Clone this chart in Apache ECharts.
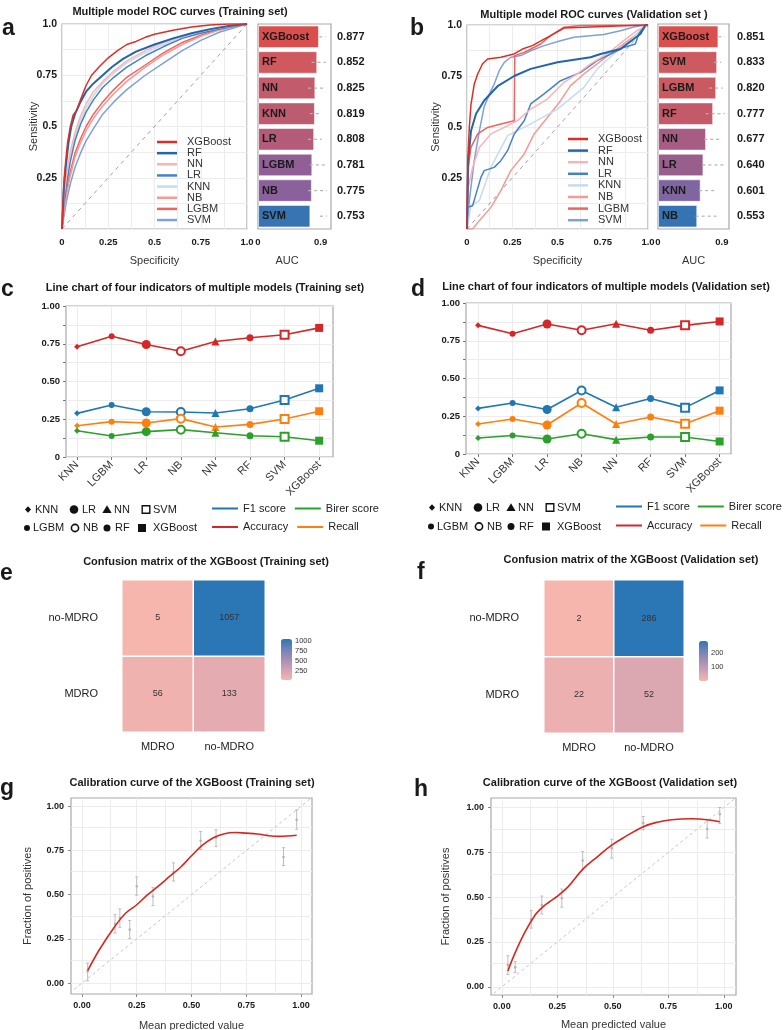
<!DOCTYPE html>
<html>
<head>
<meta charset="utf-8">
<title>Model comparison</title>
<script src="https://cdn.jsdelivr.net/npm/echarts@6.0.0/dist/echarts.min.js"></script>
<style>
  html, body { margin: 0; padding: 0; background: #fff; }
  #main { width: 784px; height: 1030px; }
</style>
</head>
<body>
<div id="main"></div>
<script>
// ---------------- data ----------------
// ROC curves, training set  [x, sensitivity]
var trainXGBoost = [[0,0],[0.005,0.12],[0.012,0.25],[0.02,0.33],[0.03,0.42],[0.045,0.5],[0.06,0.555],[0.08,0.58],[0.1,0.63],[0.13,0.7],[0.16,0.75],[0.2,0.79],[0.25,0.835],[0.3,0.87],[0.35,0.9],[0.4,0.915],[0.45,0.935],[0.5,0.95],[0.6,0.97],[0.7,0.985],[0.8,0.995],[0.9,1],[1,1]];
var trainRF = [[0,0],[0.01,0.2],[0.02,0.3],[0.035,0.42],[0.05,0.5],[0.07,0.56],[0.1,0.62],[0.13,0.67],[0.17,0.71],[0.22,0.75],[0.27,0.79],[0.33,0.83],[0.4,0.865],[0.5,0.9],[0.6,0.93],[0.7,0.955],[0.8,0.975],[0.9,0.99],[1,1]];
var trainNN = [[0,0],[0.01,0.15],[0.025,0.27],[0.045,0.38],[0.07,0.47],[0.1,0.55],[0.13,0.61],[0.17,0.67],[0.22,0.72],[0.28,0.77],[0.35,0.82],[0.45,0.87],[0.55,0.91],[0.65,0.94],[0.75,0.965],[0.85,0.98],[1,1]];
var trainLR = [[0,0],[0.01,0.12],[0.025,0.22],[0.045,0.33],[0.07,0.43],[0.1,0.51],[0.13,0.57],[0.17,0.63],[0.22,0.69],[0.28,0.74],[0.35,0.79],[0.45,0.845],[0.55,0.89],[0.65,0.93],[0.75,0.955],[0.85,0.975],[1,1]];
var trainKNN = [[0,0],[0.01,0.13],[0.025,0.25],[0.045,0.36],[0.07,0.45],[0.1,0.53],[0.13,0.59],[0.17,0.65],[0.22,0.71],[0.28,0.76],[0.35,0.81],[0.45,0.86],[0.55,0.9],[0.65,0.935],[0.75,0.96],[0.85,0.98],[1,1]];
var trainNB = [[0,0],[0.01,0.08],[0.025,0.17],[0.045,0.26],[0.07,0.35],[0.1,0.42],[0.13,0.48],[0.17,0.54],[0.22,0.6],[0.28,0.66],[0.35,0.72],[0.45,0.79],[0.55,0.85],[0.65,0.9],[0.75,0.94],[0.85,0.97],[1,1]];
var trainLGBM = [[0,0],[0.01,0.09],[0.025,0.19],[0.045,0.28],[0.07,0.37],[0.1,0.44],[0.13,0.5],[0.17,0.56],[0.22,0.62],[0.28,0.68],[0.35,0.74],[0.45,0.8],[0.55,0.86],[0.65,0.91],[0.75,0.945],[0.85,0.975],[1,1]];
var trainSVM = [[0,0],[0.01,0.06],[0.025,0.14],[0.045,0.22],[0.07,0.3],[0.1,0.37],[0.13,0.43],[0.17,0.49],[0.22,0.56],[0.28,0.62],[0.35,0.68],[0.45,0.75],[0.55,0.81],[0.65,0.87],[0.75,0.92],[0.85,0.96],[1,1]];

// ROC curves, validation set
var validXGBoost = [[0,0],[0.004,0.335],[0.013,0.5],[0.022,0.61],[0.04,0.71],[0.059,0.76],[0.086,0.81],[0.114,0.833],[0.187,0.842],[0.26,0.858],[0.306,0.882],[0.361,0.899],[0.426,0.931],[0.462,0.948],[0.536,0.985],[0.72,0.992],[0.985,1],[1,1]];
var validRF = [[0,0],[0.007,0.335],[0.022,0.48],[0.05,0.565],[0.095,0.63],[0.169,0.7],[0.261,0.75],[0.352,0.785],[0.5,0.817],[0.683,0.842],[0.738,0.858],[0.848,0.882],[0.921,0.931],[0.958,0.956],[0.985,1],[1,1]];
var validNN = [[0,0],[0.007,0.204],[0.031,0.302],[0.068,0.4],[0.132,0.466],[0.206,0.498],[0.279,0.531],[0.352,0.588],[0.444,0.637],[0.536,0.719],[0.609,0.76],[0.683,0.809],[0.774,0.858],[0.866,0.923],[0.939,0.972],[1,1]];
var validLR = [[0,0],[0,0.106],[0.031,0.114],[0.05,0.172],[0.077,0.253],[0.095,0.286],[0.15,0.302],[0.187,0.335],[0.224,0.384],[0.261,0.466],[0.316,0.531],[0.352,0.613],[0.426,0.662],[0.517,0.727],[0.628,0.768],[0.719,0.825],[0.793,0.858],[0.866,0.89],[0.93,0.907],[0.949,0.956],[0.976,0.989],[1,1]];
var validKNN = [[0,0],[0.022,0.114],[0.068,0.139],[0.132,0.302],[0.224,0.458],[0.352,0.515],[0.5,0.588],[0.646,0.694],[0.719,0.784],[0.811,0.858],[0.903,0.923],[0.985,1],[1,1]];
var validNB = [[0,0],[0.031,0],[0.068,0.041],[0.132,0.106],[0.187,0.188],[0.242,0.286],[0.316,0.368],[0.371,0.466],[0.444,0.547],[0.517,0.629],[0.572,0.703],[0.646,0.76],[0.719,0.809],[0.793,0.858],[0.866,0.907],[0.939,0.956],[1,1]];
var validLGBM = [[0,0],[0.004,0.286],[0.022,0.4],[0.059,0.466],[0.114,0.498],[0.187,0.515],[0.261,0.531],[0.264,0.85],[0.316,0.866],[0.407,0.907],[0.462,0.948],[0.536,0.989],[0.628,0.997],[1,1]];
var validSVM = [[0,0],[0.013,0.14],[0.04,0.335],[0.068,0.48],[0.095,0.6],[0.123,0.66],[0.15,0.71],[0.178,0.776],[0.206,0.817],[0.242,0.842],[0.297,0.85],[0.352,0.874],[0.426,0.899],[0.517,0.923],[0.591,0.94],[0.756,0.953],[0.848,0.972],[0.921,0.99],[0.985,1],[1,1]];

var rocModels = ['XGBoost', 'RF', 'NN', 'LR', 'KNN', 'NB', 'LGBM', 'SVM'];
var rocTrainCurves = [trainXGBoost, trainRF, trainNN, trainLR, trainKNN, trainNB, trainLGBM, trainSVM];
var rocValidCurves = [validXGBoost, validRF, validNN, validLR, validKNN, validNB, validLGBM, validSVM];

// AUC bars
var aucTrainModels = ['XGBoost', 'RF', 'NN', 'KNN', 'LR', 'LGBM', 'NB', 'SVM'];
var aucTrainValues = [0.877, 0.852, 0.825, 0.819, 0.808, 0.781, 0.775, 0.753];
var aucTrainRange = [[0.88,0.975],[0.77,0.975],[0.72,0.94],[0.745,0.915],[0.72,0.915],[0.745,0.99],[0.72,0.99],[0.89,0.99]];
var aucValidModels = ['XGBoost', 'SVM', 'LGBM', 'RF', 'NN', 'LR', 'KNN', 'NB'];
var aucValidValues = [0.851, 0.833, 0.820, 0.777, 0.677, 0.640, 0.601, 0.553];
var aucValidRange = [[0.85,0.94],[0.79,0.89],[0.72,0.91],[0.67,0.94],[0.65,0.87],[0.625,0.94],[0.58,0.82],[0.53,0.87]];

// four indicators
var lineModels = ['KNN', 'LGBM', 'LR', 'NB', 'NN', 'RF', 'SVM', 'XGBoost'];
var trainF1 = [0.289, 0.344, 0.300, 0.298, 0.291, 0.320, 0.377, 0.455];
var trainBrier = [0.174, 0.139, 0.168, 0.181, 0.161, 0.141, 0.134, 0.108];
var trainAccuracy = [0.730, 0.800, 0.745, 0.700, 0.765, 0.790, 0.810, 0.855];
var trainRecall = [0.207, 0.234, 0.225, 0.254, 0.199, 0.216, 0.252, 0.303];
var validF1 = [0.302, 0.338, 0.295, 0.421, 0.309, 0.368, 0.307, 0.421];
var validBrier = [0.106, 0.123, 0.099, 0.134, 0.095, 0.113, 0.113, 0.083];
var validAccuracy = [0.852, 0.797, 0.861, 0.819, 0.863, 0.819, 0.852, 0.878];
var validRecall = [0.199, 0.232, 0.192, 0.338, 0.199, 0.245, 0.201, 0.287];

// confusion matrices [predicted, actual, count]
var cmClasses = ['MDRO', 'no-MDRO'];
var cmTrain = [[0,0,56],[1,0,133],[0,1,5],[1,1,1057]];
var cmValid = [[0,0,22],[1,0,52],[0,1,2],[1,1,286]];
var cmTrainTicks = [250, 500, 750, 1000];
var cmValidTicks = [100, 200];

// calibration bins [mean predicted, fraction, low, high] and fitted curve
var calTrainBins = [[0.026,0.065,0.012,0.113],[0.151,0.334,0.283,0.387],[0.173,0.368,0.315,0.42],[0.218,0.302,0.252,0.354],[0.25,0.547,0.497,0.6],[0.324,0.49,0.438,0.54],[0.418,0.628,0.577,0.68],[0.542,0.805,0.755,0.857],[0.612,0.824,0.772,0.867],[0.92,0.713,0.665,0.766],[0.98,0.924,0.87,0.98]];
var calTrainCurve = [[0.026,0.07],[0.08,0.19],[0.15,0.32],[0.2,0.396],[0.25,0.443],[0.3,0.5],[0.35,0.55],[0.4,0.603],[0.45,0.655],[0.5,0.72],[0.55,0.78],[0.6,0.822],[0.65,0.845],[0.7,0.852],[0.75,0.848],[0.8,0.843],[0.85,0.834],[0.9,0.83],[0.98,0.836]];
var calValidBins = [[0.027,0.121,0.069,0.173],[0.06,0.108,0.08,0.14],[0.132,0.376,0.327,0.426],[0.18,0.456,0.406,0.506],[0.27,0.494,0.444,0.545],[0.364,0.704,0.652,0.755],[0.495,0.773,0.717,0.823],[0.637,0.913,0.875,0.95],[0.925,0.881,0.829,0.93],[0.982,0.963,0.91,1.0]];
var calValidCurve = [[0.027,0.088],[0.06,0.19],[0.105,0.307],[0.15,0.4],[0.18,0.44],[0.21,0.47],[0.255,0.51],[0.3,0.56],[0.364,0.655],[0.43,0.725],[0.495,0.79],[0.56,0.84],[0.637,0.893],[0.7,0.918],[0.765,0.932],[0.855,0.937],[0.925,0.932],[0.982,0.92]];

// ---------------- styles ----------------
var FONT = '"Liberation Sans", Arial, Helvetica, sans-serif';
var TXT = '#1a1a1a';
var GRIDLINE = '#ececec';
var rocColors = ['#de2d26', '#2166ac', '#f8b4b4', '#4682c3', '#c6dbef', '#f59a94', '#ef6361', '#7fa1d8'];
var aucTrainColors = ['#da4f4d', '#d0595f', '#c25b6c', '#bd5b71', '#b35b79', '#8f5f95', '#8a619a', '#3873b2'];
var aucValidColors = ['#d9504c', '#cd5a5e', '#ca5a61', '#c35a69', '#a65c83', '#985f8c', '#7f66a0', '#3673b3'];
var indicatorColors = {'F1 score': '#1f77b4', 'Birer score': '#2ca02c', 'Accuracy': '#d62728', 'Recall': '#ff7f0e'};
var modelSymbols = ['diamond', 'circle', 'circle', 'emptyCircle', 'triangle', 'circle', 'emptyRect', 'rect'];
var modelSymbolSizes = [6, 6, 9, 8, 8, 7, 8, 8];
var cmScale = ['#f6b6ae', '#d0a2b3', '#a58fb6', '#7283b7', '#2b77b5'];

var chart = echarts.init(document.getElementById('main'), null, {renderer: 'canvas'});

// ---------------- grids ----------------
function frame(l, t, w, h) {
  return {left: l, top: t, width: w, height: h, show: true, borderColor: '#a8a8a8', borderWidth: 1.2,
    backgroundColor: 'rgba(0,0,0,0)', outerBoundsMode: 'none'};
}
function plain(l, t, w, h) {
  return {left: l, top: t, width: w, height: h, show: false, outerBoundsMode: 'none'};
}
var grids = [
  frame(62, 24, 185, 205),   // 0 a ROC
  frame(258, 24, 73, 205),   // 1 a AUC
  frame(467, 25, 181, 204),  // 2 b ROC
  frame(658, 24, 71, 205),   // 3 b AUC
  frame(66, 306, 267, 151),  // 4 c
  frame(466, 303, 265, 151), // 5 d
  plain(122, 580, 143, 152), // 6 e
  plain(544, 580, 140, 153), // 7 f
  frame(71, 798, 241, 196),  // 8 g
  frame(491, 798, 245, 197), // 9 h
  plain(281, 639, 11, 41),   // 10 e colour bar
  plain(699, 641, 9, 40)     // 11 f colour bar
];

// ---------------- axes ----------------
var noLine = {show: false, onZero: false};
function rocX(g) {
  var lab = {0: '0', 0.25: '0.25', 0.5: '0.5', 0.75: '0.75', 1: '1.0'};
  return {type: 'value', gridIndex: g, min: 0, max: 1, interval: 0.125,
    axisLine: noLine, axisTick: {show: false},
    splitLine: {lineStyle: {color: GRIDLINE}},
    axisLabel: {formatter: function (v) { return lab[v] || ''; }, fontSize: 9.5, fontWeight: 'bold', color: TXT, margin: 8},
    name: 'Specificity', nameLocation: 'middle', nameGap: 26, nameMoveOverlap: false, nameTextStyle: {fontSize: 11, color: '#333'}};
}
function rocY(g, gap) {
  var lab = {0.25: '0.25', 0.5: '0.5', 0.75: '0.75', 1: '1.0'};
  return {type: 'value', gridIndex: g, min: 0, max: 1, interval: 0.125,
    axisLine: noLine, axisTick: {show: false},
    splitLine: {lineStyle: {color: GRIDLINE}},
    axisLabel: {formatter: function (v) { return lab[v] || ''; }, fontSize: 10.5, fontWeight: 'bold', color: TXT, margin: 5},
    name: 'Sensitivity', nameLocation: 'middle', nameGap: gap, nameMoveOverlap: false, nameTextStyle: {fontSize: 11, color: '#333'}};
}
function aucX(g, max, pad) {
  return {type: 'value', gridIndex: g, min: 0, max: max,
    axisLine: noLine, axisTick: {show: false, customValues: [0, 0.9]}, splitLine: {show: false},
    axisLabel: {customValues: [0, 0.9], formatter: function (v) { return String(v); }, fontSize: 9.5, fontWeight: 'bold', color: TXT, margin: 8},
    name: 'AUC', nameLocation: 'middle', nameGap: 26, nameMoveOverlap: false, nameTextStyle: {fontSize: 11, color: '#333', padding: [0, pad, 0, 0]}};
}
function aucY(g, models) {
  return {type: 'category', gridIndex: g, data: models, inverse: true,
    axisLine: noLine, axisTick: {show: false}, axisLabel: {show: false}, splitLine: {show: false}};
}
function aucValY(g, values, margin) {
  return {type: 'category', gridIndex: g, position: 'right', inverse: true,
    data: values.map(function (v) { return v.toFixed(3); }),
    axisLine: noLine, axisTick: {show: false}, splitLine: {show: false},
    axisLabel: {fontSize: 11, fontWeight: 'bold', color: TXT, margin: margin}};
}
function indX(g, lo, hi) {
  var idx = lineModels.map(function (m, i) { return i; });
  return {type: 'value', gridIndex: g, min: lo, max: hi,
    axisLine: noLine, splitLine: {show: false},
    axisTick: {show: true, customValues: idx, length: 3, lineStyle: {color: '#777'}},
    axisLabel: {customValues: idx, formatter: function (v) { return lineModels[v]; }, rotate: 45, fontSize: 11, color: '#333', margin: 6}};
}
function indY(g) {
  return {type: 'value', gridIndex: g, min: 0, max: 1, interval: 0.125,
    axisLine: noLine, axisTick: {show: true, length: 3, lineStyle: {color: '#777'}},
    splitLine: {lineStyle: {color: GRIDLINE}},
    axisLabel: {formatter: function (v) { return (v * 4) % 1 === 0 ? (v === 0 ? '0' : v.toFixed(2)) : ''; },
      fontSize: 9.5, fontWeight: 'bold', color: TXT, margin: 6}};
}
function cmX(g) {
  return {type: 'category', gridIndex: g, data: cmClasses, axisLine: noLine, axisTick: {show: false},
    splitLine: {show: false}, axisLabel: {fontSize: 11, color: '#222', margin: 9}};
}
function cmY(g, margin) {
  return {type: 'category', gridIndex: g, data: cmClasses, axisLine: noLine, axisTick: {show: false},
    splitLine: {show: false}, axisLabel: {fontSize: 11, color: '#222', margin: margin}};
}
var calTicks = [0, 0.25, 0.5, 0.75, 1];
function calX(g, lo, hi, gap) {
  return {type: 'value', gridIndex: g, min: lo, max: hi, axisLine: noLine, splitLine: {show: false},
    axisTick: {show: true, customValues: calTicks, length: 3, lineStyle: {color: '#888'}},
    axisLabel: {customValues: calTicks, formatter: function (v) { return v.toFixed(2); }, fontSize: 9, fontWeight: 'bold', color: TXT, margin: 7},
    name: 'Mean predicted value', nameLocation: 'middle', nameGap: gap, nameMoveOverlap: false, nameTextStyle: {fontSize: 11, color: '#333'}};
}
function calY(g, lo, hi, gap) {
  return {type: 'value', gridIndex: g, min: lo, max: hi, axisLine: noLine, splitLine: {show: false},
    axisTick: {show: true, customValues: calTicks, length: 3, lineStyle: {color: '#888'}},
    axisLabel: {customValues: calTicks, formatter: function (v) { return v.toFixed(2); }, fontSize: 9, fontWeight: 'bold', color: TXT, margin: 7},
    name: 'Fraction of positives', nameLocation: 'middle', nameGap: gap, nameMoveOverlap: false, nameTextStyle: {fontSize: 11, color: '#333'}};
}
function cbX(g) {
  return {type: 'value', gridIndex: g, show: false, min: 0, max: 1};
}
function cbY(g, lo, hi, ticks) {
  return {type: 'value', gridIndex: g, position: 'right', min: lo, max: hi,
    axisLine: noLine, axisTick: {show: false, customValues: ticks}, splitLine: {show: false},
    axisLabel: {customValues: ticks, formatter: function (v) { return String(v); }, fontSize: 7.5, color: '#333', margin: 3}};
}

var xAxes = [
  rocX(0), aucX(1, 1.05, 15), rocX(2), aucX(3, 1.0, 0),
  indX(4, -0.32, 7.4), indX(5, -0.35, 7.33),
  cmX(6), cmX(7),
  calX(8, -0.05, 1.05, 26), calX(9, -0.049, 1.055, 24),
  cbX(10), cbX(11)
];
var yAxes = [
  rocY(0, 23), aucY(1, aucTrainModels), aucValY(1, aucTrainValues, 6),
  rocY(2, 26), aucY(3, aucValidModels), aucValY(3, aucValidValues, 8),
  indY(4), indY(5),
  cmY(6, 24), cmY(7, 25),
  calY(8, -0.062, 1.047, 38), calY(9, -0.046, 1.053, 40),
  cbY(10, 5, 1057, cmTrainTicks), cbY(11, 2, 286, cmValidTicks)
];

// ---------------- series ----------------
var series = [];

function rocSeries(curves, xi, yi) {
  series.push({type: 'line', name: 'chance', xAxisIndex: xi, yAxisIndex: yi, silent: true, showSymbol: false,
    data: [[0, 0], [1, 1]], lineStyle: {color: '#a0a0a0', width: 1, type: [4, 4]}, z: 1});
  for (var i = curves.length - 1; i >= 0; i--) {
    series.push({type: 'line', name: rocModels[i], xAxisIndex: xi, yAxisIndex: yi, showSymbol: false, silent: true,
      data: curves[i], itemStyle: {color: rocColors[i]},
      lineStyle: {color: rocColors[i], width: rocModels[i] === 'RF' ? 2 : 1.5}});
  }
}
function aucSeries(values, colors, range, xi, yi) {
  series.push({type: 'bar', xAxisIndex: xi, yAxisIndex: yi, barCategoryGap: '12%', silent: true,
    data: values.map(function (v, i) {
      return {value: v, itemStyle: {color: colors[i], borderColor: 'rgba(255,255,255,0.55)', borderWidth: 1}};
    }),
    label: {show: true, position: 'insideLeft', distance: 4, formatter: '{b}', fontSize: 11, fontWeight: 'bold', color: TXT}});
  series.push({type: 'custom', xAxisIndex: xi, yAxisIndex: yi, z: 5, silent: true,
    data: range.map(function (d, i) { return [d[0], d[1], i]; }),
    encode: {x: [0, 1], y: 2},
    renderItem: function (params, api) {
      var a = api.coord([api.value(0), api.value(2)]);
      var b = api.coord([api.value(1), api.value(2)]);
      return {type: 'line', shape: {x1: a[0], y1: a[1], x2: b[0], y2: b[1]},
        style: {stroke: '#b4b4b4', lineWidth: 1.2, lineDash: [3, 3]}};
    }});
}
function gridLines(xi, yi, xs, ys) {
  var d = [];
  xs.forEach(function (v) { d.push({xAxis: v}); });
  ys.forEach(function (v) { d.push({yAxis: v}); });
  series.push({type: 'line', xAxisIndex: xi, yAxisIndex: yi, data: [], z: 0, silent: true,
    markLine: {silent: true, z: 0, symbol: ['none', 'none'], label: {show: false}, animation: false,
      lineStyle: {color: GRIDLINE, width: 1, type: 'solid'}, data: d}});
}
function indicatorSeries(name, values, xi, yi) {
  var c = indicatorColors[name];
  series.push({type: 'line', name: name, xAxisIndex: xi, yAxisIndex: yi, z: 3, silent: true,
    lineStyle: {color: c, width: 1.6}, itemStyle: {color: c},
    data: values.map(function (v, i) {
      var empty = modelSymbols[i].indexOf('empty') === 0;
      return {value: [i, v], symbol: modelSymbols[i], symbolSize: modelSymbolSizes[i],
        itemStyle: {color: c, borderColor: c, borderWidth: empty ? 1.5 : 0}};
    })});
}
function heatSeries(data, xi, yi) {
  series.push({type: 'heatmap', xAxisIndex: xi, yAxisIndex: yi, data: data, silent: true,
    itemStyle: {borderColor: '#fff', borderWidth: 1.5},
    label: {show: true, formatter: function (p) { return p.value[2]; }, fontSize: 9, color: '#333'}});
  return series.length - 1;
}
function calSeries(bins, curve, xi, yi) {
  series.push({type: 'line', xAxisIndex: xi, yAxisIndex: yi, silent: true, showSymbol: false, z: 1,
    data: [[-0.1, -0.1], [1.1, 1.1]], lineStyle: {color: '#c4c4c4', width: 1, type: [3, 3]}});
  series.push({type: 'custom', xAxisIndex: xi, yAxisIndex: yi, silent: true, z: 2,
    data: bins, encode: {x: 0, y: [1, 2, 3]},
    renderItem: function (params, api) {
      var x = api.value(0);
      var lo = api.coord([x, api.value(2)]), hi = api.coord([x, api.value(3)]), c = api.coord([x, api.value(1)]);
      var st = {stroke: '#bdbdbd', lineWidth: 1};
      return {type: 'group', children: [
        {type: 'line', shape: {x1: lo[0], y1: lo[1], x2: hi[0], y2: hi[1]}, style: st},
        {type: 'line', shape: {x1: lo[0] - 1.5, y1: lo[1], x2: lo[0] + 1.5, y2: lo[1]}, style: st},
        {type: 'line', shape: {x1: hi[0] - 1.5, y1: hi[1], x2: hi[0] + 1.5, y2: hi[1]}, style: st},
        {type: 'circle', shape: {cx: c[0], cy: c[1], r: 1.3}, style: {fill: '#b5b5b5'}}
      ]};
    }});
  series.push({type: 'line', xAxisIndex: xi, yAxisIndex: yi, silent: true, showSymbol: false, z: 3,
    smooth: 0.4, data: curve, lineStyle: {color: '#d7261e', width: 1.6}});
}

var eighths = [0, 0.125, 0.25, 0.375, 0.5, 0.625, 0.75, 0.875, 1];

rocSeries(rocTrainCurves, 0, 0);
aucSeries(aucTrainValues, aucTrainColors, aucTrainRange, 1, 1);
rocSeries(rocValidCurves, 2, 3);
aucSeries(aucValidValues, aucValidColors, aucValidRange, 3, 4);

gridLines(4, 6, lineModels.map(function (m, i) { return i; }), []);
indicatorSeries('Accuracy', trainAccuracy, 4, 6);
indicatorSeries('F1 score', trainF1, 4, 6);
indicatorSeries('Recall', trainRecall, 4, 6);
indicatorSeries('Birer score', trainBrier, 4, 6);
gridLines(5, 7, lineModels.map(function (m, i) { return i; }), []);
indicatorSeries('Accuracy', validAccuracy, 5, 7);
indicatorSeries('F1 score', validF1, 5, 7);
indicatorSeries('Recall', validRecall, 5, 7);
indicatorSeries('Birer score', validBrier, 5, 7);

var heatE = heatSeries(cmTrain, 6, 8);
var heatF = heatSeries(cmValid, 7, 9);

gridLines(8, 10, eighths, eighths);
calSeries(calTrainBins, calTrainCurve, 8, 10);
gridLines(9, 11, eighths, eighths);
calSeries(calValidBins, calValidCurve, 9, 11);

// ---------------- legends ----------------
function rocLegend(left, top, gap) {
  return {data: rocModels, orient: 'vertical', left: left, top: top, padding: 0, itemGap: gap,
    icon: 'rect', itemWidth: 20, itemHeight: 2.5, selectedMode: false,
    textStyle: {fontSize: 11, color: '#333', lineHeight: 11, padding: [0, 0, 0, 5]}};
}
function indLegend(names, left, top, gap) {
  return {data: names, orient: 'horizontal', left: left, top: top, padding: 0, itemGap: gap,
    icon: 'rect', itemWidth: 26, itemHeight: 2, selectedMode: false,
    textStyle: {fontSize: 11, color: '#222', width: 44}};
}

// ---------------- text & symbol keys ----------------
var graphics = [];
function label(text, x, y, font, align, vAlign) {
  graphics.push({type: 'text', x: x, y: y, silent: true,
    style: {text: text, font: font, fill: TXT, align: align || 'center', verticalAlign: vAlign || 'middle'}});
}
var TITLE = 'bold 11px ' + FONT;
label('Multiple model ROC curves (Training set)', 180, 12, TITLE);
label('Multiple model ROC curves (Validation set )', 594, 15, TITLE);
label('Line chart of four indicators of multiple models (Training set)', 205, 288, TITLE);
label('Line chart of four indicators of multiple models (Validation set)', 606, 287, TITLE);
label('Confusion matrix of the XGBoost (Training set)', 206, 562, TITLE);
label('Confusion matrix of the XGBoost (Validation set)', 631, 560, TITLE);
label('Calibration curve of the XGBoost (Training set)', 192, 783, TITLE);
label('Calibration curve of the XGBoost (Validation set)', 610, 783, TITLE);

var LETTER = 'bold 23px ' + FONT;
[['a', 2, 17], ['b', 410, 17], ['c', 1, 278], ['d', 411, 278],
 ['e', 0, 562], ['f', 417, 561], ['g', 0, 777], ['h', 414, 778]].forEach(function (l) {
  label(l[0], l[1], l[2], LETTER, 'left', 'alphabetic');
});

function mark(kind, cx, cy) {
  var k = '#111';
  if (kind === 'diamond') return {type: 'polygon', shape: {points: [[cx, cy - 3.3], [cx + 3, cy], [cx, cy + 3.3], [cx - 3, cy]]}, style: {fill: k}};
  if (kind === 'dot') return {type: 'circle', shape: {cx: cx, cy: cy, r: 3}, style: {fill: k}};
  if (kind === 'mid') return {type: 'circle', shape: {cx: cx, cy: cy, r: 3.5}, style: {fill: k}};
  if (kind === 'big') return {type: 'circle', shape: {cx: cx, cy: cy, r: 4.3}, style: {fill: k}};
  if (kind === 'ring') return {type: 'circle', shape: {cx: cx, cy: cy, r: 3.6}, style: {fill: '#fff', stroke: k, lineWidth: 1.6}};
  if (kind === 'tri') return {type: 'polygon', shape: {points: [[cx, cy - 4.3], [cx + 4.6, cy + 3.6], [cx - 4.6, cy + 3.6]]}, style: {fill: k}};
  if (kind === 'box') return {type: 'rect', shape: {x: cx - 3.8, y: cy - 3.8, width: 7.6, height: 7.6}, style: {fill: '#fff', stroke: k, lineWidth: 1.4}};
  return {type: 'rect', shape: {x: cx - 4, y: cy - 4, width: 8, height: 8}, style: {fill: k}};
}
function symbolKey(ox, y1, y2) {
  var rows = [
    [['diamond', 28, 'KNN', 35], ['big', 74, 'LR', 82], ['tri', 107, 'NN', 114], ['box', 146, 'SVM', 153]],
    [['dot', 27, 'LGBM', 33], ['ring', 75, 'NB', 83], ['mid', 107, 'RF', 115], ['square', 142, 'XGBoost', 153]]
  ];
  rows.forEach(function (row, r) {
    var y = r === 0 ? y1 : y2;
    row.forEach(function (it) {
      var m = mark(it[0], it[1] + ox, y);
      m.silent = true;
      graphics.push(m);
      label(it[2], it[3] + ox, y, '11px ' + FONT, 'left', 'middle');
    });
  });
}
symbolKey(0, 509.5, 528);
symbolKey(404, 507.5, 526.5);

// ---------------- option ----------------
var option = {
  animation: false,
  backgroundColor: '#fff',
  textStyle: {fontFamily: FONT},
  grid: grids,
  xAxis: xAxes,
  yAxis: yAxes,
  legend: [
    rocLegend(157, 136.5, 0.15),
    rocLegend(568, 133.5, 0.6),
    indLegend(['F1 score', 'Birer score'], 212, 503, 9),
    indLegend(['Accuracy', 'Recall'], 212, 521.5, 9),
    indLegend(['F1 score', 'Birer score'], 616, 501, 8),
    indLegend(['Accuracy', 'Recall'], 616, 520, 8)
  ],
  visualMap: [
    {type: 'continuous', seriesIndex: heatE, min: 5, max: 1057, inRange: {color: cmScale},
      left: 281, top: 639, itemWidth: 11, itemHeight: 41, padding: 0, calculable: false, hoverLink: false},
    {type: 'continuous', seriesIndex: heatF, min: 2, max: 286, inRange: {color: cmScale},
      left: 699, top: 641, itemWidth: 9, itemHeight: 40, padding: 0, calculable: false, hoverLink: false}
  ],
  graphic: graphics,
  series: series
};
chart.setOption(option);
</script>
</body>
</html>
